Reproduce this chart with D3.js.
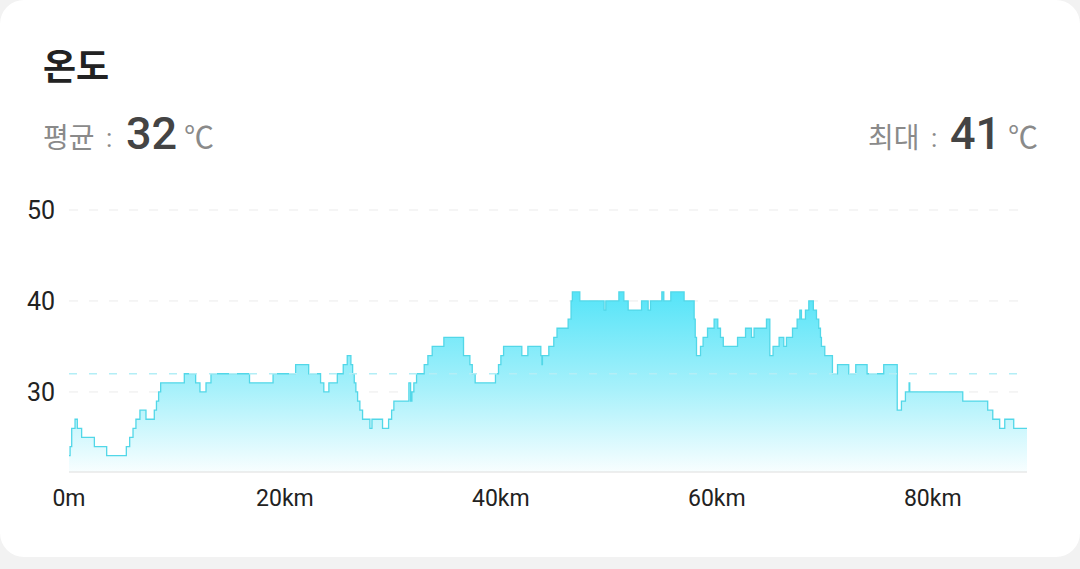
<!DOCTYPE html>
<html>
<head>
<meta charset="utf-8">
<script src="https://cdn.jsdelivr.net/npm/d3@7"></script>
<style>
  html, body { margin: 0; padding: 0; background: #f2f2f2; }
  svg { display: block; }
</style>
</head>
<body>
<svg id="chart" width="1080" height="569"></svg>
<script>
// distance (km) where the reading changes, and the temperature from that point on
const distanceKm = [
  0, 0.1, 0.25, 0.56, 0.77, 1.17, 2.35, 3.49, 5.31, 5.62, 5.93, 6.2, 6.57, 7.13, 7.9, 8.1, 8.3, 8.49,
  10.68, 11.73, 12.13, 12.69, 13.15, 16.72, 18.9, 20.99, 22.2, 23.3, 23.6, 24.07, 24.85, 25.4, 25.77,
  26.11, 26.27, 26.42, 26.57, 26.73, 26.94, 27.19, 27.87, 28.06, 29.04, 29.6, 29.88, 30.09, 31.48,
  31.64, 31.76, 31.94, 32.19, 32.9, 33.24, 33.64, 34.72, 36.54, 37.13, 37.35, 37.62, 39.5, 39.78,
  40.0, 40.25, 41.94, 42.5, 43.7, 43.8, 43.85, 44.44, 44.9, 45.2, 46.23, 46.5, 46.62, 47.31, 49.56,
  49.72, 50.93, 51.39, 51.79, 53.03, 53.64, 53.86, 54.91, 55.09, 55.74, 56.97, 57.9, 58.0, 58.12,
  58.49, 58.73, 59.14, 59.75, 60.09, 60.34, 60.6, 61.92, 62.66, 63.21, 63.45, 64.6, 64.91, 65.21,
  65.77, 66.2, 66.45, 67.01, 67.44, 67.69, 67.84, 68.21, 68.52, 68.94, 69.23, 69.44, 69.6, 69.69,
  70.0, 70.71, 71.18, 72.22, 72.87, 73.92, 75.46, 76.71, 77.1, 77.47, 77.81, 77.87, 82.78, 85.09,
  85.56, 86.2, 86.67, 87.5, 88.73
];
const temperature = [
  23, 24, 26, 27, 26, 25, 24, 23, 24, 25, 26, 27, 28, 27, 28, 29, 30, 31,
  32, 31, 30, 31, 32, 31, 32, 33, 32, 31, 30, 31, 32, 33, 34,
  33, 32, 31, 30, 29, 28, 27, 26, 27, 26, 27, 28, 29, 31,
  29, 30, 31, 32, 33, 34, 35, 36, 34, 33, 32, 31, 32, 33,
  34, 35, 34, 35, 34, 33, 34, 35, 36, 37, 38, 40, 41, 40, 39,
  40, 41, 40, 39, 40, 39, 40, 41, 40, 41, 40, 38, 36, 34,
  35, 36, 37, 38, 37, 36, 35, 36, 37, 36, 37, 38, 34, 35,
  36, 35, 36, 37, 38, 39, 38, 39, 40, 39, 38, 37, 36, 35,
  34, 32, 33, 32, 33, 32, 33, 28, 29, 30, 31, 30, 29, 28,
  27, 26, 27, 26, 26
];

const avgTemp = 32;
const maxTemp = 41;
const yTicks = [30, 40, 50];
const xTicks = [0, 20, 40, 60, 80];
const xTickLabels = ["0m", "20km", "40km", "60km", "80km"];

const data = distanceKm.map((d, i) => ({ km: d, t: temperature[i] }));

const svg = d3.select("#chart");

// card background
svg.append("rect")
  .attr("x", 0).attr("y", 0)
  .attr("width", 1080).attr("height", 557)
  .attr("rx", 24)
  .attr("fill", "#ffffff");

// header
svg.append("text")
  .attr("x", 43).attr("y", 80)
  .attr("font-family", "Noto Sans CJK KR")
  .attr("font-weight", 700)
  .attr("font-size", 36)
  .attr("fill", "#222")
  .text("온도");

function stat(label, value, x0, xColon, xVal, xUnit) {
  svg.append("text")
    .attr("x", x0).attr("y", 148)
    .attr("font-family", "Noto Sans CJK KR")
    .attr("font-size", 28)
    .attr("fill", "#8a8a8a")
    .text(label);
  svg.append("text")
    .attr("x", xColon).attr("y", 147)
    .attr("font-family", "Roboto")
    .attr("font-size", 26)
    .attr("fill", "#8a8a8a")
    .text(":");
  svg.append("text")
    .attr("x", xVal).attr("y", 149)
    .attr("font-family", "Roboto")
    .attr("font-weight", 500)
    .attr("font-size", 45)
    .attr("fill", "#444")
    .text(value);
  svg.append("text")
    .attr("x", xUnit).attr("y", 148)
    .attr("font-family", "Noto Sans CJK KR")
    .attr("font-size", 30)
    .attr("fill", "#8a8a8a")
    .text("℃");
}
stat("평균", avgTemp, 43, 106, 126, 184);
stat("최대", maxTemp, 868, 931, 950, 1008);

// scales
const x = d3.scaleLinear()
  .domain([0, d3.max(distanceKm)])
  .range([69, 1027]);

const y = d3.scaleLinear()
  .domain([21.2, 50])
  .range([472, 210]);

// grid lines
svg.append("g")
  .selectAll("line")
  .data(yTicks)
  .enter()
  .append("line")
  .attr("x1", 69).attr("x2", 1020)
  .attr("y1", d => y(d)).attr("y2", d => y(d))
  .attr("stroke", "#ebebeb")
  .attr("stroke-width", 1)
  .attr("stroke-dasharray", "9 11");

// y labels
svg.append("g")
  .selectAll("text")
  .data(yTicks)
  .enter()
  .append("text")
  .attr("x", 55)
  .attr("y", d => y(d))
  .attr("dy", "0.35em")
  .attr("text-anchor", "end")
  .attr("font-family", "Roboto")
  .attr("font-size", 25)
  .attr("fill", "#222")
  .text(d => d);

// gradient
const grad = svg.append("defs").append("linearGradient")
  .attr("id", "fillGrad")
  .attr("gradientUnits", "userSpaceOnUse")
  .attr("x1", 0).attr("x2", 0)
  .attr("y1", y(maxTemp)).attr("y2", y(21.2));
grad.append("stop").attr("offset", 0).attr("stop-color", "#55e4f8");
grad.append("stop").attr("offset", 0.55).attr("stop-color", "#a9f1fb");
grad.append("stop").attr("offset", 1).attr("stop-color", "#f8feff");

const area = d3.area()
  .curve(d3.curveStepAfter)
  .x(d => x(d.km))
  .y0(y(21.2))
  .y1(d => y(d.t));

const line = d3.line()
  .curve(d3.curveStepAfter)
  .x(d => x(d.km))
  .y(d => y(d.t));

svg.append("path")
  .datum(data)
  .attr("d", area)
  .attr("fill", "url(#fillGrad)");

svg.append("path")
  .datum(data)
  .attr("d", line)
  .attr("fill", "none")
  .attr("stroke", "#52d7e8")
  .attr("stroke-width", 1.3);

// average line
svg.append("line")
  .attr("x1", 69).attr("x2", 1020)
  .attr("y1", y(avgTemp)).attr("y2", y(avgTemp))
  .attr("stroke", "#b3eef6")
  .attr("stroke-width", 1.5)
  .attr("stroke-dasharray", "8 12");

// x axis
svg.append("line")
  .attr("x1", 69).attr("x2", 1027)
  .attr("y1", y(21.2)).attr("y2", y(21.2))
  .attr("stroke", "#dddddd")
  .attr("stroke-width", 1.2);

svg.append("g")
  .selectAll("text")
  .data(xTicks)
  .enter()
  .append("text")
  .attr("x", d => x(d))
  .attr("y", 506)
  .attr("text-anchor", "middle")
  .attr("font-family", "Roboto")
  .attr("font-size", 23)
  .attr("fill", "#222")
  .text((d, i) => xTickLabels[i]);
</script>
</body>
</html>
